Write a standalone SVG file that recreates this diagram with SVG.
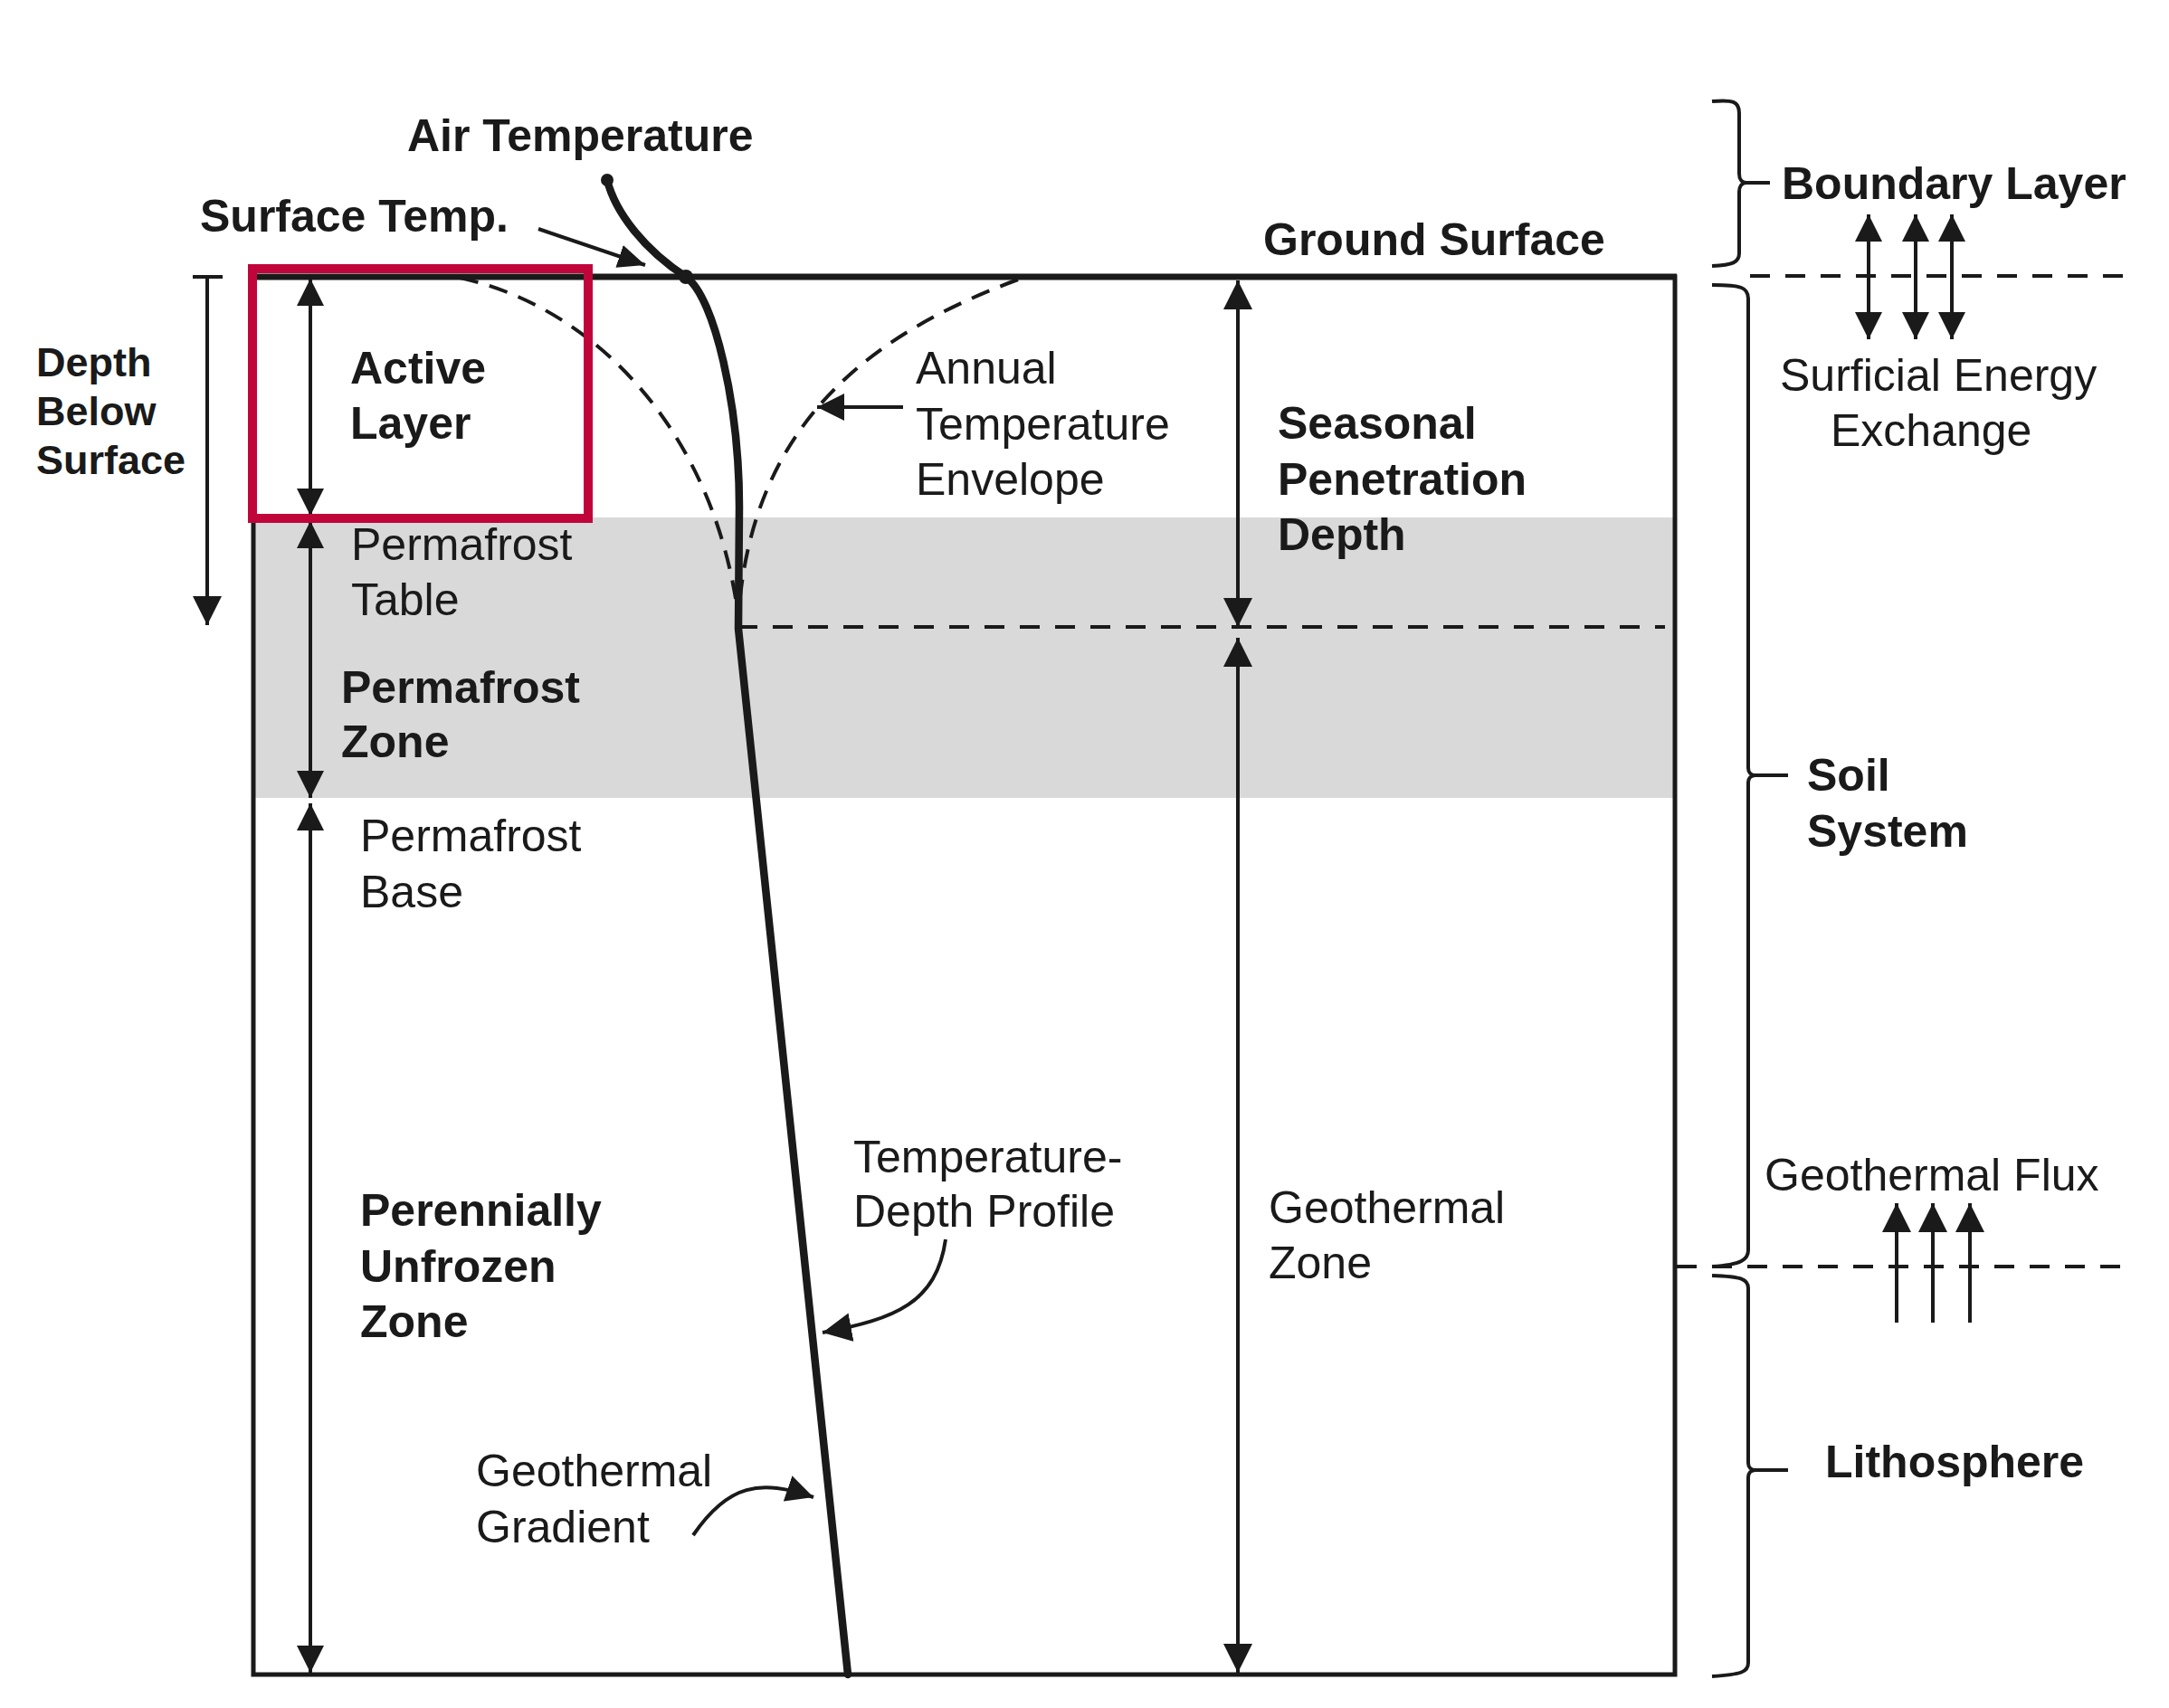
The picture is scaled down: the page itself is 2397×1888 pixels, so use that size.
<svg xmlns="http://www.w3.org/2000/svg" width="2397" height="1888" viewBox="0 0 2397 1888">
<style>
text{font-family:"Liberation Sans",Arial,Helvetica,sans-serif;fill:#1a1a1a;font-size:50px}
.b{font-weight:bold}
.ln{stroke:#1a1a1a;fill:none;stroke-width:4}
.thick{stroke:#1a1a1a;fill:none;stroke-width:8.5;stroke-linecap:round;stroke-linejoin:round}
.dc{stroke:#1a1a1a;fill:none;stroke-width:4;stroke-dasharray:21 13}
.dh{stroke:#1a1a1a;fill:none;stroke-width:4;stroke-dasharray:22 17}
.br{stroke:#1a1a1a;fill:none;stroke-width:4;stroke-linejoin:round}
</style>
<defs>
<marker id="ah" viewBox="0 0 30 30" refX="30" refY="15" markerWidth="30" markerHeight="30" markerUnits="userSpaceOnUse" orient="auto-start-reverse"><path d="M0,0 L30,15 L0,30 z" fill="#1a1a1a"/></marker>
<marker id="ah2" viewBox="0 0 32 32" refX="32" refY="16" markerWidth="32" markerHeight="32" markerUnits="userSpaceOnUse" orient="auto-start-reverse"><path d="M0,0 L32,16 L0,32 z" fill="#1a1a1a"/></marker>
<marker id="ahs" viewBox="0 0 30 26" refX="30" refY="13" markerWidth="30" markerHeight="26" markerUnits="userSpaceOnUse" orient="auto"><path d="M0,0 L30,13 L0,26 z" fill="#1a1a1a"/></marker>
</defs>
<rect width="2397" height="1888" fill="#ffffff"/>

<g id="permafrost-band">
<rect x="280" y="572" width="1571" height="310" fill="#d9d9d9"/>
</g>

<g id="ground-box">
<rect x="280" y="306" width="1571" height="1545" fill="none" stroke="#1a1a1a" stroke-width="5"/>
<line x1="278" y1="306" x2="1853" y2="306" stroke="#1a1a1a" stroke-width="7"/>
</g>

<g id="connectors">
<path class="dc" d="M508,307 C660,340 790,480 816,682"/>
<path class="dc" d="M1125,309 C960,370 830,470 816,682"/>
<line class="dh" x1="815" y1="693" x2="1840" y2="693"/>
<line class="dh" x1="1934" y1="305" x2="2354" y2="305"/>
<line class="dh" x1="1853" y1="1400" x2="2352" y2="1400"/>
<path class="thick" d="M671,199 C680,235 712,276 758,306 C790,328 817,450 817,560 L816,695 L937,1851"/>
<circle cx="671" cy="199" r="7" fill="#1a1a1a"/>
<circle cx="758" cy="306" r="8" fill="#1a1a1a"/>
<line class="ln" x1="213" y1="306" x2="246" y2="306"/>
<line class="ln" x1="229" y1="306" x2="229" y2="691" marker-end="url(#ah2)"/>
<line class="ln" x1="343" y1="308" x2="343" y2="570" marker-start="url(#ah)" marker-end="url(#ah)"/>
<line class="ln" x1="343" y1="576" x2="343" y2="882" marker-start="url(#ah)" marker-end="url(#ah)"/>
<line class="ln" x1="343" y1="888" x2="343" y2="1849" marker-start="url(#ah)" marker-end="url(#ah)"/>
<line class="ln" x1="1368" y1="310" x2="1368" y2="693" marker-start="url(#ah2)" marker-end="url(#ah2)"/>
<line class="ln" x1="1368" y1="705" x2="1368" y2="1849" marker-start="url(#ah2)" marker-end="url(#ah2)"/>
<line class="ln" x1="595" y1="253" x2="713" y2="293" marker-end="url(#ahs)"/>
<line class="ln" x1="998" y1="450" x2="903" y2="450" stroke-width="5" marker-end="url(#ah)"/>
<path class="ln" d="M1045,1370 C1035,1440 990,1458 909,1473" marker-end="url(#ah2)"/>
<path class="ln" d="M766,1697 C805,1640 840,1635 899,1655" marker-end="url(#ah)"/>
<line class="ln" x1="2065" y1="237" x2="2065" y2="375" stroke-width="5" marker-start="url(#ah)" marker-end="url(#ah)"/>
<line class="ln" x1="2117" y1="237" x2="2117" y2="375" stroke-width="5" marker-start="url(#ah)" marker-end="url(#ah)"/>
<line class="ln" x1="2157" y1="237" x2="2157" y2="375" stroke-width="5" marker-start="url(#ah)" marker-end="url(#ah)"/>
<line class="ln" x1="2096" y1="1462" x2="2096" y2="1330" marker-end="url(#ah2)"/>
<line class="ln" x1="2136" y1="1462" x2="2136" y2="1330" marker-end="url(#ah2)"/>
<line class="ln" x1="2177" y1="1462" x2="2177" y2="1330" marker-end="url(#ah2)"/>
<path class="br" d="M1892,112 C1915,110 1922,112 1922,125 L1922,192 C1922,198 1925,202 1930,202 C1925,202 1922,206 1922,212 L1922,280 C1922,290 1915,293 1892,294"/>
<line class="ln" x1="1928" y1="202" x2="1956" y2="202"/>
<path class="br" d="M1892,315 C1925,315 1932,318 1932,330 L1932,849 C1932,854 1935,857 1940,857 C1935,857 1932,860 1932,865 L1932,1382 C1932,1392 1925,1398 1892,1400"/>
<line class="ln" x1="1938" y1="857" x2="1976" y2="857"/>
<path class="br" d="M1892,1410 C1925,1411 1932,1414 1932,1424 L1932,1617 C1932,1622 1935,1625 1940,1625 C1935,1625 1932,1628 1932,1633 L1932,1838 C1932,1848 1925,1851 1892,1853"/>
<line class="ln" x1="1938" y1="1625" x2="1976" y2="1625"/>
</g>

<g id="active-layer-highlight">
<rect x="279" y="297" width="371" height="276" fill="none" stroke="#c0053a" stroke-width="10"/>
</g>

<g id="label-air-temperature"><text class="b" x="450" y="167">Air Temperature</text></g>
<g id="label-surface-temp"><text class="b" x="221" y="256">Surface Temp.</text></g>
<g id="label-ground-surface"><text class="b" x="1396" y="282">Ground Surface</text></g>
<g id="label-depth-below-surface"><text class="b" style="font-size:45px" x="40" y="416">Depth</text><text class="b" style="font-size:45px" x="40" y="470">Below</text><text class="b" style="font-size:45px" x="40" y="524">Surface</text></g>
<g id="label-active-layer"><text class="b" x="387" y="424">Active</text><text class="b" x="387" y="485">Layer</text></g>
<g id="label-permafrost-table"><text x="388" y="619">Permafrost</text><text x="388" y="680">Table</text></g>
<g id="label-permafrost-zone"><text class="b" x="377" y="777">Permafrost</text><text class="b" x="377" y="837">Zone</text></g>
<g id="label-permafrost-base"><text x="398" y="941">Permafrost</text><text x="398" y="1003">Base</text></g>
<g id="label-perennially-unfrozen-zone"><text class="b" x="398" y="1355">Perennially</text><text class="b" x="398" y="1417">Unfrozen</text><text class="b" x="398" y="1478">Zone</text></g>
<g id="label-geothermal-gradient"><text x="526" y="1643">Geothermal</text><text x="526" y="1705">Gradient</text></g>
<g id="label-annual-envelope"><text x="1012" y="424">Annual</text><text x="1012" y="486">Temperature</text><text x="1012" y="547">Envelope</text></g>
<g id="label-seasonal-penetration"><text class="b" x="1412" y="485">Seasonal</text><text class="b" x="1412" y="547">Penetration</text><text class="b" x="1412" y="608">Depth</text></g>
<g id="label-temperature-depth-profile"><text x="943" y="1296">Temperature-</text><text x="943" y="1356">Depth Profile</text></g>
<g id="label-geothermal-zone"><text x="1402" y="1352">Geothermal</text><text x="1402" y="1413">Zone</text></g>
<g id="label-boundary-layer"><text class="b" x="1969" y="220">Boundary Layer</text></g>
<g id="label-surficial-energy"><text x="1967" y="432">Surficial Energy</text><text x="2023" y="493">Exchange</text></g>
<g id="label-soil-system"><text class="b" x="1997" y="874">Soil</text><text class="b" x="1997" y="936">System</text></g>
<g id="label-geothermal-flux"><text x="1950" y="1316">Geothermal Flux</text></g>
<g id="label-lithosphere"><text class="b" x="2017" y="1633">Lithosphere</text></g>
</svg>
